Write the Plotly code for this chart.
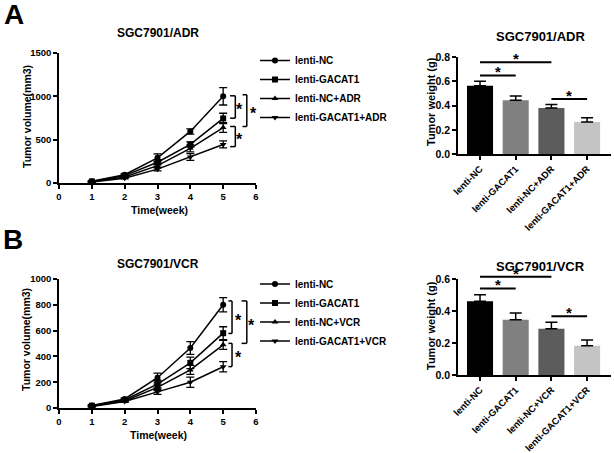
import plotly.graph_objects as go

W, H = 614, 453
weeks = [1, 2, 3, 4, 5]

# Panel A line data (SGC7901/ADR)
a_names = ["lenti-NC", "lenti-GACAT1", "lenti-NC+ADR", "lenti-GACAT1+ADR"]
a_nc = [20, 95, 290, 595, 1000]
a_nc_err = [8, 12, 45, 30, 100]
a_gac = [18, 85, 240, 445, 745]
a_gac_err = [6, 10, 30, 30, 60]
a_ncadr = [15, 70, 200, 400, 640]
a_ncadr_err = [5, 8, 25, 40, 55]
a_gacadr = [12, 55, 160, 300, 445]
a_gacadr_err = [5, 8, 20, 40, 40]

# Panel B line data (SGC7901/VCR)
b_names = ["lenti-NC", "lenti-GACAT1", "lenti-NC+VCR", "lenti-GACAT1+VCR"]
b_nc = [20, 70, 235, 465, 800]
b_nc_err = [6, 8, 35, 50, 55]
b_gac = [18, 62, 185, 350, 580]
b_gac_err = [5, 8, 30, 45, 50]
b_ncvcr = [15, 55, 160, 295, 490]
b_ncvcr_err = [5, 7, 25, 35, 35]
b_gacvcr = [12, 50, 125, 200, 320]
b_gacvcr_err = [5, 6, 20, 40, 40]

# Bar data
a_bar_cats = ["lenti-NC", "lenti-GACAT1", "lenti-NC+ADR", "lenti-GACAT1+ADR"]
a_bar_vals = [0.565, 0.445, 0.38, 0.265]
a_bar_err = [0.037, 0.035, 0.03, 0.035]
b_bar_cats = ["lenti-NC", "lenti-GACAT1", "lenti-NC+VCR", "lenti-GACAT1+VCR"]
b_bar_vals = [0.463, 0.347, 0.29, 0.183]
b_bar_err = [0.04, 0.042, 0.04, 0.037]
bar_colors = ["#000000", "#808080", "#5c5c5c", "#c4c4c4"]

# Significance comparisons on bars: (i, j, height)
a_bar_sig = [(0, 1, 0.65), (0, 2, 0.76), (2, 3, 0.455)]
b_bar_sig = [(0, 1, 0.543), (0, 2, 0.616), (2, 3, 0.368)]
# Brackets on line charts: (y_top, y_bottom, x_vertical, x_tick_end, x_star)
a_brackets = [(1006, 748, 5.37, 5.21, 5.5), (1018, 652, 5.72, 5.59, 5.93), (652, 420, 5.37, 5.21, 5.5)]
b_brackets = [(830, 578, 5.27, 5.16, 5.46), (830, 501, 5.72, 5.56, 5.87), (501, 321, 5.27, 5.16, 5.46)]

FONT = "Liberation Sans"
symbols = ["circle", "square", "triangle-up", "triangle-down"]


def bf(size):
    return dict(size=size, family=FONT, color="black", weight="bold")


def px_x(a, b):
    return [a / W, b / W]


def px_y(bot, top):
    return [1 - bot / H, 1 - top / H]


dom_line_x = px_x(59, 256)
dom_a_line_y = px_y(183, 53)
dom_b_line_y = px_y(408, 279)
dom_bar_x = px_x(458, 611)
dom_a_bar_y = px_y(154, 57.3)
dom_b_bar_y = px_y(375, 279.3)
bar_xrange = [-0.617, 3.67]
a_bar_yrange = [0, 0.8]
b_bar_yrange = [0, 0.6]

fig = go.Figure()


def add_lines(names, ys, errs, xa, ya, legend):
    for n, y, e, s in zip(names, ys, errs, symbols):
        fig.add_trace(go.Scatter(
            x=weeks, y=y, name=n, mode="lines+markers",
            line=dict(color="black", width=1.5),
            marker=dict(symbol=s, size=6, color="black"),
            error_y=dict(type="data", array=e, color="black", thickness=1.3, width=4),
            xaxis=xa, yaxis=ya, legend=legend))


add_lines(a_names, [a_nc, a_gac, a_ncadr, a_gacadr],
          [a_nc_err, a_gac_err, a_ncadr_err, a_gacadr_err], "x", "y", "legend")
add_lines(b_names, [b_nc, b_gac, b_ncvcr, b_gacvcr],
          [b_nc_err, b_gac_err, b_ncvcr_err, b_gacvcr_err], "x2", "y2", "legend2")


def add_bars(cats, vals, errs, xa, ya):
    fig.add_trace(go.Bar(
        x=cats, y=vals, marker=dict(color=bar_colors, line=dict(width=0)),
        width=0.73, showlegend=False,
        error_y=dict(type="data", array=errs, arrayminus=[0] * len(errs), symmetric=False,
                     color="black", thickness=1.5, width=6),
        xaxis=xa, yaxis=ya))


add_bars(a_bar_cats, a_bar_vals, a_bar_err, "x3", "y3")
add_bars(b_bar_cats, b_bar_vals, b_bar_err, "x4", "y4")

shapes = []
annotations = []


def to_paper(v, rng, dom):
    return dom[0] + (v - rng[0]) / (rng[1] - rng[0]) * (dom[1] - dom[0])


def bar_sig(sig, ydom, yrng):
    for i, j, h in sig:
        x0 = to_paper(i, bar_xrange, dom_bar_x)
        x1 = to_paper(j, bar_xrange, dom_bar_x)
        yp = to_paper(h, yrng, ydom)
        shapes.append(dict(type="line", xref="paper", yref="paper", x0=x0, x1=x1, y0=yp, y1=yp,
                           line=dict(color="black", width=2)))
        annotations.append(dict(xref="paper", yref="paper", x=(x0 + x1) / 2, y=yp, text="*",
                                showarrow=False, xanchor="center", yanchor="bottom", yshift=-7,
                                font=bf(15)))


bar_sig(a_bar_sig, dom_a_bar_y, a_bar_yrange)
bar_sig(b_bar_sig, dom_b_bar_y, b_bar_yrange)


def brackets(br, xa, ya):
    for yt, yb, xv, xt, xs in br:
        for y0 in (yt, yb):
            shapes.append(dict(type="line", xref=xa, yref=ya, x0=xt, x1=xv, y0=y0, y1=y0,
                               line=dict(color="black", width=1.5)))
        shapes.append(dict(type="line", xref=xa, yref=ya, x0=xv, x1=xv, y0=yb, y1=yt,
                           line=dict(color="black", width=1.5)))
        annotations.append(dict(xref=xa, yref=ya, x=xs, y=(yt + yb) / 2, text="*",
                                showarrow=False, xanchor="center", yanchor="middle",
                                yshift=-3, font=bf(16)))


brackets(a_brackets, "x", "y")
brackets(b_brackets, "x2", "y2")


def ptext(text, xpx, ypx, size=12, angle=0):
    annotations.append(dict(xref="paper", yref="paper", x=xpx / W, y=1 - ypx / H,
                            xanchor="center", yanchor="middle", textangle=angle,
                            text=text, showarrow=False, font=bf(size)))


# titles and labels
ptext("SGC7901/ADR", 158, 33, 12)
ptext("SGC7901/VCR", 158, 264, 12)
ptext("SGC7901/ADR", 540, 37, 13)
ptext("SGC7901/VCR", 540, 266, 13)
ptext("A", 14, 14, 28)
ptext("B", 13, 239, 28)
ptext("Tumor volume(mm3)", 27, 117, 10.5, -90)
ptext("Tumor volume(mm3)", 26, 340, 10.5, -90)
ptext("Time(week)", 159, 210, 10.5)
ptext("Time(week)", 158, 435, 10.5)
ptext("Tumor weight (g)", 431, 102, 11, -90)
ptext("Tumor weight (g)", 431, 326, 11, -90)

ax_common = dict(showline=True, linecolor="black", linewidth=1.5, ticks="outside",
                 ticklen=4, tickwidth=1.5, tickcolor="black", showgrid=False,
                 zeroline=False, tickfont=bf(9.5), automargin=False)
bar_y_common = dict(ax_common, tickfont=bf(10.5))
bar_x_common = dict(ax_common, tickangle=-45, tickfont=bf(9.5))

fig.update_layout(
    width=W, height=H, margin=dict(l=0, r=0, t=0, b=0, autoexpand=False),
    plot_bgcolor="white", paper_bgcolor="white",
    font=dict(family=FONT, color="black"),
    xaxis=dict(ax_common, domain=dom_line_x, range=[0, 6], dtick=1, anchor="y"),
    yaxis=dict(ax_common, domain=dom_a_line_y, range=[0, 1500], dtick=500, anchor="x"),
    xaxis2=dict(ax_common, domain=dom_line_x, range=[0, 6], dtick=1, anchor="y2"),
    yaxis2=dict(ax_common, domain=dom_b_line_y, range=[0, 1000], dtick=200, anchor="x2"),
    xaxis3=dict(bar_x_common, domain=dom_bar_x, range=bar_xrange, anchor="y3"),
    yaxis3=dict(bar_y_common, domain=dom_a_bar_y, range=a_bar_yrange, dtick=0.2,
                tickformat=".1f", anchor="x3"),
    xaxis4=dict(bar_x_common, domain=dom_bar_x, range=bar_xrange, anchor="y4"),
    yaxis4=dict(bar_y_common, domain=dom_b_bar_y, range=b_bar_yrange, dtick=0.2,
                tickformat=".1f", anchor="x4"),
    legend=dict(x=255 / W, y=1 - 46 / H, xanchor="left", yanchor="top",
                font=bf(10), itemwidth=30,
                bgcolor="rgba(0,0,0,0)", tracegroupgap=0),
    legend2=dict(x=255 / W, y=1 - 269.5 / H, xanchor="left", yanchor="top",
                 font=bf(10), itemwidth=30,
                 bgcolor="rgba(0,0,0,0)", tracegroupgap=0),
    shapes=shapes, annotations=annotations,
)

fig.write_html("out.html", config={"displayModeBar": False},
               post_script="document.body.style.margin='0';")
